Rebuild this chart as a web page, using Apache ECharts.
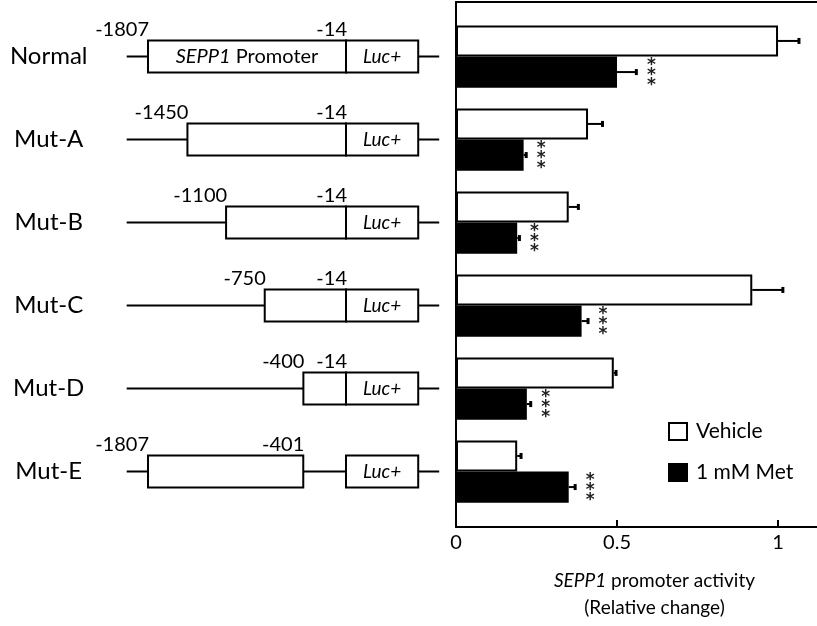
<!DOCTYPE html>
<html>
<head>
<meta charset="utf-8">
<script src="https://cdn.jsdelivr.net/npm/echarts@6/dist/echarts.min.js"></script>
<style>
  html, body { margin: 0; padding: 0; background: #fff; }
  #chart { width: 817px; height: 626px; }
</style>
</head>
<body>
<div id="chart"></div>
<script>
// ---- Data ----
const categories = ['Normal', 'Mut-A', 'Mut-B', 'Mut-C', 'Mut-D', 'Mut-E'];
const vehicle    = [1.00, 0.41, 0.35, 0.92, 0.49, 0.19];
const vehicleErr = [0.065, 0.045, 0.03, 0.095, 0.007, 0.012];
const met        = [0.50, 0.21, 0.19, 0.39, 0.22, 0.35];
const metErr     = [0.06, 0.008, 0.007, 0.02, 0.012, 0.02];
const significance = ['***', '***', '***', '***', '***', '***'];
const seriesNames = ['Vehicle', '1 mM Met'];

// promoter construct schematic (bp positions)
const promoterStart = [-1807, -1450, -1100, -750, -400, -1807];
const promoterEnd   = [-14, -14, -14, -14, -14, -401];
const startLabels   = ['-1807', '-1450', '-1100', '-750', '-400', '-1807'];
const endLabels     = ['-14', '-14', '-14', '-14', '-14', '-401'];
const lucStart      = [-14, -14, -14, -14, -14, -14];
const lucEnd        = [640, 640, 640, 640, 640, 640];
const backbone      = [-2000, 830];

const xMax = 1.121;
const FONT = 'Lato';

const chart = echarts.init(document.getElementById('chart'));

const errData = [];
categories.forEach((c, i) => {
  errData.push([i, vehicle[i], vehicleErr[i], 0, '']);
  errData.push([i, met[i], metErr[i], 1, significance[i]]);
});

const schemData = categories.map((c, i) => [i, promoterStart[i], promoterEnd[i], lucStart[i], lucEnd[i]]);

const option = {
  backgroundColor: '#fff',
  animation: false,
  textStyle: { fontFamily: FONT },
  grid: [
    { left: 456, top: 2, width: 361, height: 525 },
    { left: 456, top: 15, width: 361, height: 498 },
    { left: 126.7, top: 15, width: 312.5, height: 498 }
  ],
  legend: {
    orient: 'vertical', left: 663, top: 416,
    itemWidth: 18, itemHeight: 17, itemGap: 20, icon: 'rect',
    textStyle: { fontSize: 21, color: '#000', fontFamily: FONT, padding: [0, 0, 0, 4] },
    data: [
      { name: 'Vehicle', itemStyle: { color: '#fff', borderColor: '#000', borderWidth: 2 } },
      { name: '1 mM Met', itemStyle: { color: '#000', borderColor: '#000', borderWidth: 2 } }
    ]
  },
  xAxis: [
    {
      gridIndex: 0, type: 'value', min: 0, max: xMax, interval: 0.5, position: 'bottom',
      axisLine: { show: true, onZero: false, lineStyle: { color: '#000', width: 2 } },
      axisTick: { show: true, inside: true, length: 7, lineStyle: { color: '#000', width: 2 } },
      axisLabel: { fontSize: 20, color: '#000', margin: 6, showMaxLabel: false, fontFamily: FONT },
      splitLine: { show: false },
      name: '{i|SEPP1} promoter activity\n(Relative change)',
      nameLocation: 'middle', nameGap: 40,
      nameTextStyle: {
        fontSize: 19, color: '#000', fontFamily: FONT, lineHeight: 27, padding: [0, 0, 0, 36],
        rich: { i: { fontStyle: 'italic', fontSize: 19, fontFamily: FONT, color: '#000', lineHeight: 27 } }
      }
    },
    {
      gridIndex: 0, type: 'value', min: 0, max: xMax, position: 'top',
      axisLine: { show: true, onZero: false, lineStyle: { color: '#000', width: 2 } },
      axisTick: { show: false }, axisLabel: { show: false }, splitLine: { show: false }
    },
    { gridIndex: 1, type: 'value', min: 0, max: xMax, show: false },
    { gridIndex: 2, type: 'value', min: backbone[0], max: backbone[1], show: false }
  ],
  yAxis: [
    {
      gridIndex: 0, type: 'value', min: 0, max: 1,
      axisLine: { show: true, onZero: false, lineStyle: { color: '#000', width: 2 } },
      axisTick: { show: false }, axisLabel: { show: false }, splitLine: { show: false }
    },
    { gridIndex: 1, type: 'category', data: categories, inverse: true, show: false },
    {
      gridIndex: 2, type: 'category', data: categories, inverse: true,
      axisLine: { show: false }, axisTick: { show: false },
      axisLabel: { fontSize: 24, color: '#000', margin: 78, align: 'center', fontFamily: FONT }
    }
  ],
  series: [
    {
      type: 'bar', name: seriesNames[0], xAxisIndex: 2, yAxisIndex: 1, data: vehicle,
      barGap: '0%', barCategoryGap: '25%',
      itemStyle: { color: '#fff', borderColor: '#000', borderWidth: 2 }
    },
    {
      type: 'bar', name: seriesNames[1], xAxisIndex: 2, yAxisIndex: 1, data: met,
      barGap: '0%', barCategoryGap: '25%',
      itemStyle: { color: '#000', borderColor: '#000', borderWidth: 2 }
    },
    {
      type: 'custom', xAxisIndex: 2, yAxisIndex: 1, data: errData, z: 5,
      encode: { x: [1, 2], y: 0 },
      renderItem: function (params, api) {
        const cat = api.value(0), val = api.value(1), err = api.value(2), s = api.value(3);
        const sig = errData[params.dataIndex][4];
        const band = api.size([0, 1])[1];
        const bw = band * 0.75 / 2;
        const yc = api.coord([0, cat])[1] + (s === 0 ? -bw / 2 : bw / 2);
        const x0 = api.coord([val, cat])[0];
        const x1 = api.coord([val + err, cat])[0];
        const children = [
          { type: 'line', shape: { x1: x0, y1: yc, x2: x1, y2: yc }, style: { stroke: '#000', lineWidth: 2 } },
          { type: 'line', shape: { x1: x1, y1: yc - 3, x2: x1, y2: yc + 3 }, style: { stroke: '#000', lineWidth: 3 } }
        ];
        if (sig) {
          children.push({
            type: 'text',
            style: {
              text: sig.split('').join('\n'), x: x1 + 15, y: yc + 4,
              fontSize: 17, fontWeight: 'bold', lineHeight: 10, fontFamily: 'DejaVu Sans', fill: '#222',
              align: 'center', verticalAlign: 'middle'
            }
          });
        }
        return { type: 'group', children: children };
      }
    },
    {
      type: 'custom', xAxisIndex: 3, yAxisIndex: 2, data: schemData, z: 5,
      encode: { x: [1, 2, 3, 4], y: 0 },
      renderItem: function (params, api) {
        const row = api.value(0);
        const i = params.dataIndex;
        const yc = api.coord([0, row])[1];
        const X = v => api.coord([v, row])[0];
        const h = 32;
        const ps = X(api.value(1)), pe = X(api.value(2)), ls = X(api.value(3)), le = X(api.value(4));
        const children = [
          { type: 'line', shape: { x1: X(backbone[0]), y1: yc, x2: X(backbone[1]), y2: yc }, style: { stroke: '#000', lineWidth: 2 } },
          { type: 'rect', shape: { x: ps, y: yc - h / 2, width: pe - ps, height: h }, style: { fill: '#fff', stroke: '#000', lineWidth: 2 } },
          { type: 'rect', shape: { x: ls, y: yc - h / 2, width: le - ls, height: h }, style: { fill: '#fff', stroke: '#000', lineWidth: 2 } },
          { type: 'text', style: { text: 'Luc+', x: (ls + le) / 2, y: yc, fontSize: 19, fontStyle: 'italic', fontFamily: FONT, fill: '#000', align: 'center', verticalAlign: 'middle' } },
          { type: 'text', style: { text: startLabels[i], x: ps + 1, y: yc - 27, fontSize: 20, fontFamily: FONT, fill: '#000', align: 'right', verticalAlign: 'middle' } },
          { type: 'text', style: { text: endLabels[i], x: pe + 1, y: yc - 27, fontSize: 20, fontFamily: FONT, fill: '#000', align: 'right', verticalAlign: 'middle' } }
        ];
        if (i === 0) {
          children.push({
            type: 'text',
            style: {
              text: '{i|SEPP1} Promoter', x: (ps + pe) / 2, y: yc, fontSize: 20, fontFamily: FONT, fill: '#000',
              align: 'center', verticalAlign: 'middle',
              rich: { i: { fontStyle: 'italic', fontSize: 20, fontFamily: FONT, fill: '#000' } }
            }
          });
        }
        return { type: 'group', children: children };
      }
    }
  ]
};

chart.setOption(option);
</script>
</body>
</html>
